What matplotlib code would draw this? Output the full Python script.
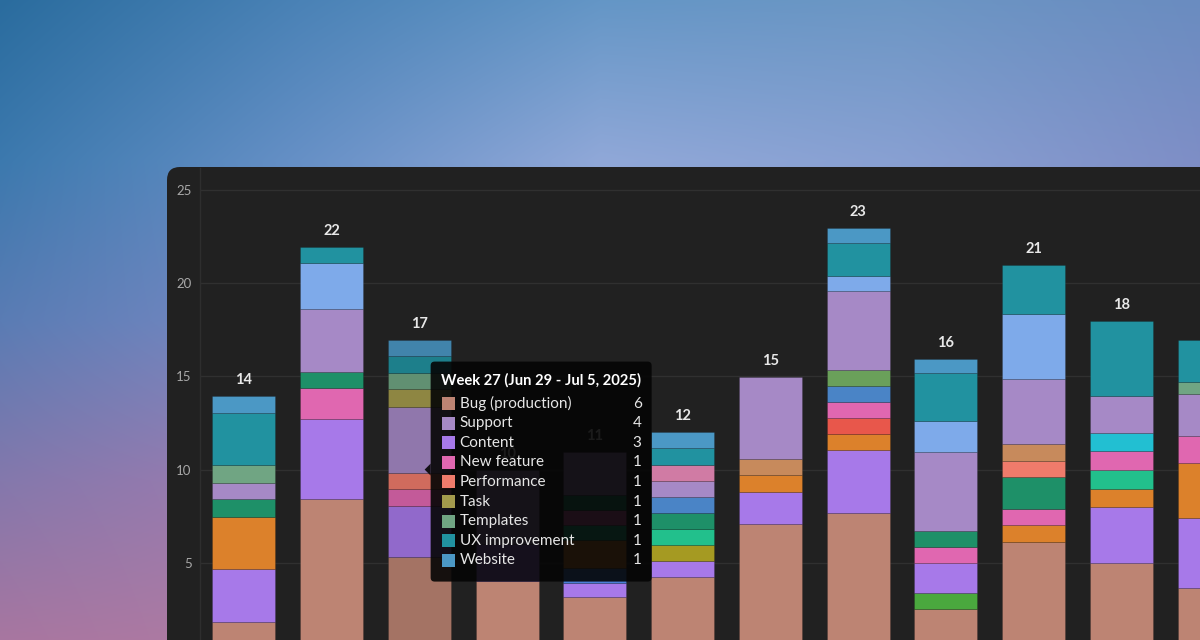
import numpy as np
import matplotlib
matplotlib.use("Agg")
import matplotlib.pyplot as plt
import matplotlib.colors as mcolors
from matplotlib.patches import FancyBboxPatch, Rectangle, Polygon
from matplotlib.transforms import IdentityTransform

plt.rcParams['font.family'] = ['Lato', 'DejaVu Sans']

# ---------------- data ----------------
weeks = ["W25", "W26", "W27", "W28", "W29", "W30", "W31", "W32", "W33", "W34", "W35", "W36"]

categories = ["Bug (production)", "Bug (staging)", "Content", "Data", "Copy", "Design",
              "DevOps", "Documentation", "New feature", "Onboarding", "Performance",
              "Refactor", "Research", "Security", "SEO", "Support", "Tech debt",
              "Task", "Templates", "Testing", "UX improvement", "Website"]

colors = ["#bd8473", "#4aa83e", "#a779e9", "#4a80d8", "#a59a22", "#dc812b",
          "#22c08c", "#e8574b", "#e067b0", "#1e9068", "#ef7b6b",
          "#4a84c6", "#6aa05a", "#22bfd2", "#c78a5c", "#a689c6", "#d07ba4",
          "#a39a4c", "#70a583", "#7eaaea", "#2192a0", "#4b98c5"]

bug_prod      = [1.83, 8.43, 5.32, 4.00, 3.14, 4.25, 7.06, 7.65, 2.50, 6.11, 5.00, 3.66]
bug_staging   = [0, 0, 0, 0, 0, 0, 0, 0, 0.86, 0, 0, 0]
content       = [2.82, 4.26, 2.72, 2.00, 0.75, 0.84, 1.73, 3.40, 1.64, 0, 2.97, 3.72]
data_cat      = [0, 0, 0, 0, 0.81, 0, 0, 0, 0, 0, 0, 0]
copy_cat      = [0, 0, 0, 0, 0, 0.86, 0, 0, 0, 0, 0, 0]
design        = [2.79, 0, 0, 0, 1.51, 0, 0.90, 0.84, 0, 0.90, 1.00, 2.95]
devops        = [0, 0, 0, 0, 0.80, 0.84, 0, 0, 0, 0, 1.02, 0]
documentation = [0, 0, 0, 0, 0, 0, 0, 0.86, 0, 0, 0, 0]
new_feature   = [0, 1.67, 0.90, 0, 0.81, 0, 0, 0.86, 0.86, 0.85, 1.00, 1.48]
onboarding    = [0.96, 0.87, 0, 0, 0.80, 0.89, 0, 0, 0.86, 1.75, 0, 0]
performance   = [0, 0, 0.86, 0, 0, 0, 0, 0, 0, 0.86, 0, 0]
refactor      = [0, 0, 0, 0, 0, 0.86, 0, 0.86, 0, 0, 0, 0]
research      = [0, 0, 0, 0, 0, 0, 0, 0.86, 0, 0, 0, 0]
security      = [0, 0, 0, 0, 0, 0, 0, 0, 0, 0, 0.99, 0]
seo           = [0, 0, 0, 0, 0, 0, 0.89, 0, 0, 0.90, 0, 0]
support       = [0.89, 3.37, 3.57, 4.00, 2.33, 0.86, 4.38, 4.26, 4.20, 3.50, 1.96, 2.22]
tech_debt     = [0, 0, 0, 0, 0, 0.84, 0, 0, 0, 0, 0, 0]
task          = [0, 0, 0.93, 0, 0, 0, 0, 0, 0, 0, 0, 0]
templates     = [0.94, 0, 0.89, 0, 0, 0, 0, 0, 0, 0, 0, 0.68]
testing       = [0, 2.50, 0, 0, 0, 0, 0, 0.82, 1.68, 3.46, 0, 0]
ux            = [2.82, 0.85, 0.90, 0, 0, 0.90, 0, 1.73, 2.56, 2.64, 4.01, 2.24]
website       = [0.91, 0, 0.86, 0, 0, 0.86, 0, 0.83, 0.79, 0, 0, 0]

series = [bug_prod, bug_staging, content, data_cat, copy_cat, design, devops,
          documentation, new_feature, onboarding, performance, refactor, research,
          security, seo, support, tech_debt, task, templates, testing, ux, website]

hover_index = 2
tooltip_title = "Week 27 (Jun 29 - Jul 5, 2025)"
tooltip_labels = ["Bug (production)", "Support", "Content", "New feature", "Performance",
                  "Task", "Templates", "UX improvement", "Website"]
tooltip_values = [6, 4, 3, 1, 1, 1, 1, 1, 1]

yticks = [5, 10, 15, 20, 25]

# ---------------- figure & background ----------------
W, H = 1200, 640
fig = plt.figure(figsize=(W / 100, H / 100), dpi=100)

gx = [0, 300, 600, 900, 1200]
gy = [0, 160, 320, 480, 640]
grid = [
    ['#2a6c9e', '#4a82b6', '#6496c6', '#6c96c4', '#6a8cc0'],
    ['#3c79ae', '#6690c6', '#90a8d8', '#88a0d2', '#7e8ec6'],
    ['#5a7cb4', '#7a8ac4', '#8a9ad0', '#8890c8', '#8088c0'],
    ['#8478ac', '#a07cb0', '#9488c0', '#8888c0', '#8080b8'],
    ['#a876a0', '#b07ca4', '#9888b8', '#9088c0', '#8888c0'],
]
grid_rgb = np.array([[mcolors.to_rgb(c) for c in row] for row in grid])
xs = np.arange(W)
ys = np.arange(H)
rows_interp = np.zeros((len(gy), W, 3))
for r in range(len(gy)):
    for ch in range(3):
        rows_interp[r, :, ch] = np.interp(xs, gx, grid_rgb[r, :, ch])
img = np.zeros((H, W, 3))
gy_arr = np.array(gy)
idx = np.clip(np.searchsorted(gy_arr, ys, side='right') - 1, 0, len(gy) - 2)
t = (ys - gy_arr[idx]) / (gy_arr[idx + 1] - gy_arr[idx])
for ch in range(3):
    col = rows_interp[:, :, ch]
    img[:, :, ch] = col[idx, :] * (1 - t)[:, None] + col[idx + 1, :] * t[:, None]

bg = fig.add_axes([0, 0, 1, 1])
bg.imshow(img, extent=[0, W, H, 0], aspect='auto', interpolation='bilinear')
bg.set_xlim(0, W)
bg.set_ylim(H, 0)
bg.axis('off')
bg.set_zorder(-3)

panel = FancyBboxPatch((167, -80), 1300, 473 + 80,
                       boxstyle="round,pad=0,rounding_size=13",
                       transform=IdentityTransform(), facecolor='#212121',
                       edgecolor='none', zorder=-2)
fig.add_artist(panel)

# ---------------- main chart ----------------
ax = fig.add_axes([200 / W, -16 / H, 1053 / W, 488.4 / H])
ax.set_zorder(0)
ax.patch.set_alpha(0)
ax.set_xlim(-0.5, 11.5)
ax.set_ylim(0, 26.2)

x = np.arange(len(weeks))
bottom = np.zeros(len(weeks))


def darker(c, f=0.87):
    r, g, b = mcolors.to_rgb(c)
    return (r * f, g * f, b * f)


for vals, col in zip(series, colors):
    vals = np.array(vals, dtype=float)
    bar_cols = [darker(col) if i == hover_index else col for i in range(len(weeks))]
    mask = vals > 0
    ax.bar(x[mask], vals[mask], bottom=bottom[mask], width=0.72,
           color=[bar_cols[i] for i in np.where(mask)[0]],
           edgecolor=(0, 0, 0, 0.14), linewidth=0.7, zorder=3)
    bottom += vals

for xi, tot in zip(x, bottom):
    ax.annotate(f"{int(round(tot))}", (xi, tot), xytext=(0, 11.5),
                textcoords='offset points', ha='center', va='center',
                color='#e8e8e8', fontsize=10.5, fontweight='bold', zorder=4)

ax.set_yticks(yticks)
ax.set_yticklabels([str(v) for v in yticks])
ax.set_xticks([])
ax.tick_params(axis='y', length=0, pad=6, labelcolor='#a8a8a8', labelsize=9.5)
ax.yaxis.grid(True, color='#303030', linewidth=1)
ax.set_axisbelow(True)
for s in ['top', 'right', 'bottom']:
    ax.spines[s].set_visible(False)
ax.spines['left'].set_color('#2e2e2e')
ax.spines['left'].set_linewidth(1)

# ---------------- tooltip ----------------
ax_px = ax.transData.transform((hover_index + 0.06, 10.0))
tip_x, tip_y = ax_px
box_left = tip_x + 6
box_w, box_h = 221, 220
box_top = tip_y + 108
box_bottom = box_top - box_h

tip_bg = (0.02, 0.02, 0.02, 0.9)
box = FancyBboxPatch((box_left, box_bottom), box_w, box_h,
                     boxstyle="round,pad=0,rounding_size=4",
                     transform=IdentityTransform(), facecolor=tip_bg,
                     edgecolor='none', zorder=10)
fig.add_artist(box)
arrow = Polygon([[tip_x, tip_y], [box_left, tip_y + 6], [box_left, tip_y - 6]],
                closed=True, transform=IdentityTransform(), facecolor=tip_bg,
                edgecolor='none', zorder=10)
fig.add_artist(arrow)

fig.text(box_left + 10, box_top - 19, tooltip_title, transform=IdentityTransform(),
         ha='left', va='center', color='white', fontsize=10.6, fontweight='bold', zorder=11)

cat_color = dict(zip(categories, colors))
for k, (lab, val) in enumerate(zip(tooltip_labels, tooltip_values)):
    ry = box_top - 42 - k * 19.6
    sw = Rectangle((box_left + 11, ry - 6.5), 13, 13, transform=IdentityTransform(),
                   facecolor=cat_color[lab], edgecolor='none', zorder=11)
    fig.add_artist(sw)
    fig.text(box_left + 29, ry, lab, transform=IdentityTransform(), ha='left',
             va='center', color='#e6e6e6', fontsize=11, zorder=11)
    fig.text(box_left + 211, ry, str(val), transform=IdentityTransform(), ha='right',
             va='center', color='#e6e6e6', fontsize=11, zorder=11)

fig.savefig("out.png", dpi=100)
